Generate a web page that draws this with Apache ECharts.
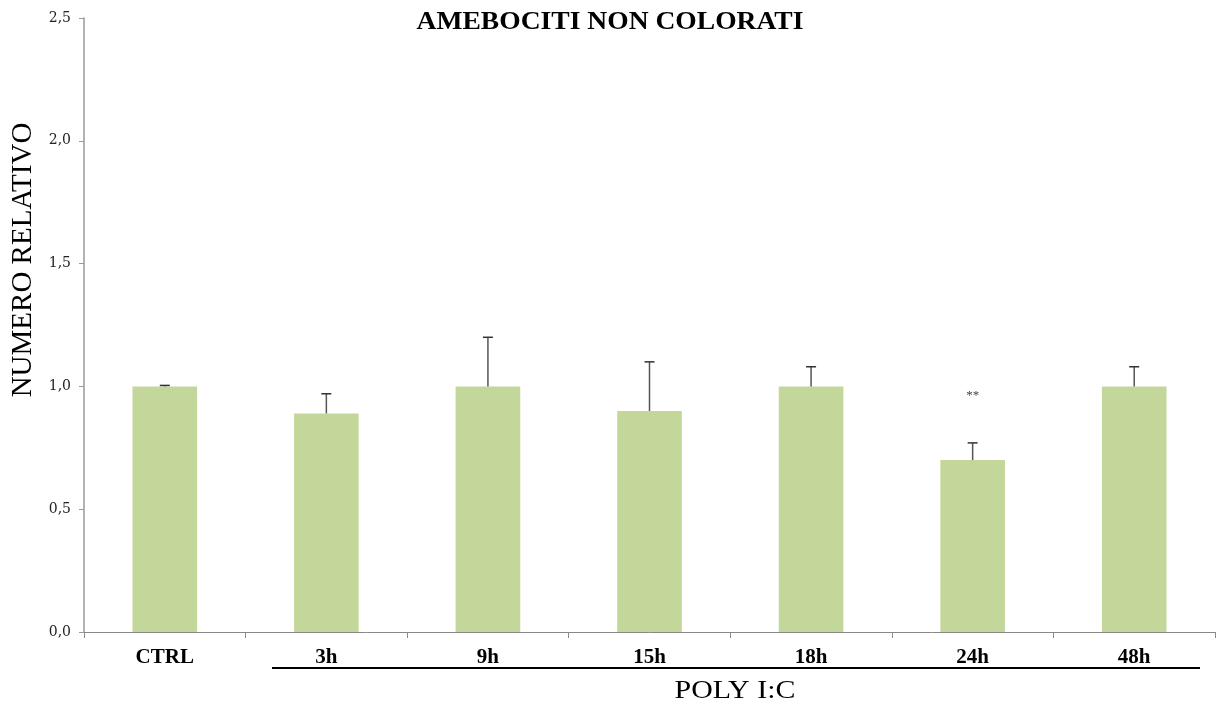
<!DOCTYPE html>
<html>
<head>
<meta charset="utf-8">
<script src="https://cdn.jsdelivr.net/npm/echarts@6/dist/echarts.min.js"></script>
<style>html,body{margin:0;padding:0;background:#fff;}#chart{width:1216px;height:708px;}</style>
</head>
<body>
<div id="chart"></div>
<script>
const categories = ['CTRL', '3h', '9h', '15h', '18h', '24h', '48h'];
const values = [1.0, 0.89, 1.0, 0.90, 1.0, 0.70, 1.0];
const errors = [0.004, 0.08, 0.20, 0.20, 0.08, 0.07, 0.08];
const significance = ['', '', '', '', '', '**', ''];
const yTicks = [0, 0.5, 1.0, 1.5, 2.0, 2.5];

const serif = '"Liberation Serif", "Times New Roman", serif';
const chart = echarts.init(document.getElementById('chart'));

const errData = categories.map((c, i) => [i, values[i], errors[i]]);

chart.setOption({
  animation: false,
  backgroundColor: '#ffffff',
  grid: { left: 84, right: 1, top: 18, bottom: 76 },
  xAxis: {
    type: 'category',
    data: categories,
    axisLine: { lineStyle: { color: '#888', width: 1 } },
    axisTick: { show: true, alignWithLabel: false, length: 6, lineStyle: { color: '#888' } },
    axisLabel: { fontFamily: serif, fontWeight: 'bold', fontSize: 21, color: '#000', margin: 15 }
  },
  yAxis: {
    type: 'value',
    min: yTicks[0], max: yTicks[yTicks.length - 1], interval: 0.5,
    splitLine: { show: false },
    axisLine: { show: true, lineStyle: { color: '#999', width: 1.5 } },
    axisTick: { show: true, length: 5, lineStyle: { color: '#999' } },
    axisLabel: {
      fontFamily: '"DejaVu Serif", serif', fontSize: 14, color: '#222', margin: 13,
      formatter: v => v.toFixed(1).replace('.', ',')
    }
  },
  series: [
    {
      type: 'bar',
      data: values,
      barWidth: '40%',
      itemStyle: { color: '#c4d79b' },
      z: 2
    },
    {
      type: 'custom',
      data: errData,
      z: 3,
      renderItem: function (params, api) {
        const i = api.value(0);
        const v = api.value(1);
        const e = api.value(2);
        const sig = significance[i];
        const base = api.coord([i, v]);
        const top = api.coord([i, v + e]);
        const half = 5;
        const children = [
          { type: 'line', shape: { x1: base[0], y1: base[1], x2: top[0], y2: top[1] },
            style: { stroke: '#555', lineWidth: 1.5 } },
          { type: 'line', shape: { x1: top[0] - half, y1: top[1], x2: top[0] + half, y2: top[1] },
            style: { stroke: '#333', lineWidth: 1.5 } }
        ];
        if (sig) {
          children.push({ type: 'text', style: { text: sig, x: top[0], y: top[1] - 47,
            align: 'center', verticalAlign: 'middle', font: '13px ' + serif, fill: '#444' } });
        }
        return { type: 'group', children: children };
      }
    }
  ],
  graphic: [
    { type: 'text', x: 610, y: 22,
      style: { text: 'AMEBOCITI NON COLORATI', font: 'bold 26px ' + serif, fill: '#000', align: 'center', verticalAlign: 'middle' },
      scaleX: 1.06 },
    { type: 'text', x: 23, y: 260, rotation: Math.PI / 2,
      style: { text: 'NUMERO RELATIVO', font: '29px ' + serif, fill: '#000', align: 'center', verticalAlign: 'middle' } },
    { type: 'line', shape: { x1: 272, y1: 668, x2: 1200, y2: 668 }, style: { stroke: '#000', lineWidth: 2 } },
    { type: 'text', x: 735, y: 691,
      style: { text: 'POLY I:C', font: '26px ' + serif, fill: '#000', align: 'center', verticalAlign: 'middle' },
      scaleX: 1.15 }
  ]
});
</script>
</body>
</html>
